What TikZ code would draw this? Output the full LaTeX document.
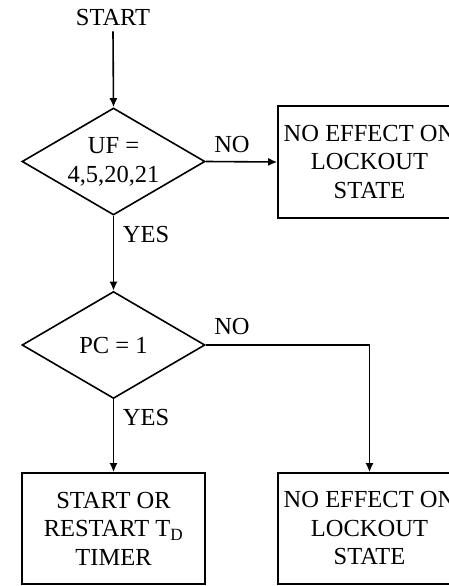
\documentclass[tikz,border=0pt]{standalone}
\usepackage{fontspec}
\setmainfont{Liberation Serif}
\usetikzlibrary{shapes.geometric,arrows.meta}
\newcommand{\fcfont}{\fontsize{24.5}{28.5}\selectfont}
\begin{document}
\begin{tikzpicture}[x=1pt,y=-1pt,
  boxnode/.style={draw, line width=1.6pt, minimum width=183pt, minimum height=111pt, inner sep=0pt, align=center, font=\fcfont},
  dianode/.style={draw, diamond, minimum width=183pt, minimum height=107pt, inner sep=0pt, line width=1.6pt},
  txt/.style={font=\fcfont, align=center, inner sep=1pt},
  arr/.style={-{Latex[length=9pt,width=8pt]}, line width=1.6pt}]
\clip (0,0) rectangle (449,586);
\node[txt] (start) at (113,18) {START};
\node[dianode] (d1) at (113.5,161.5) {};
\node[txt] (d1t) at (113.5,162) {UF =\\4,5,20,21};
\node[boxnode, minimum height=112pt] (b1) at (369.5,162) {NO EFFECT ON\\LOCKOUT\\STATE};
\node[dianode] (d2) at (113.5,345) {};
\node[txt] (d2t) at (113.5,346) {PC = 1};
\node[boxnode] (b2) at (113.5,528.5) {START OR\\RESTART T\textsubscript{D}\\TIMER};
\node[boxnode] (b3) at (369.5,528.5) {NO EFFECT ON\\LOCKOUT\\STATE};
\node[txt] (no1) at (232,145) {NO};
\node[txt] (yes1) at (146,235) {YES};
\node[txt] (no2) at (232,327) {NO};
\node[txt] (yes2) at (146,418) {YES};
\draw[arr] (start.south) ++(0,4) coordinate (s0) (s0) -- (d1.north);
\draw[arr] (d1.east) -- (b1.west);
\draw[arr] (d1.south) -- (d2.north);
\draw[arr] (d2.south) -- (b2.north);
\draw[arr] (d2.east) -| (b3.north);
\end{tikzpicture}
\end{document}
